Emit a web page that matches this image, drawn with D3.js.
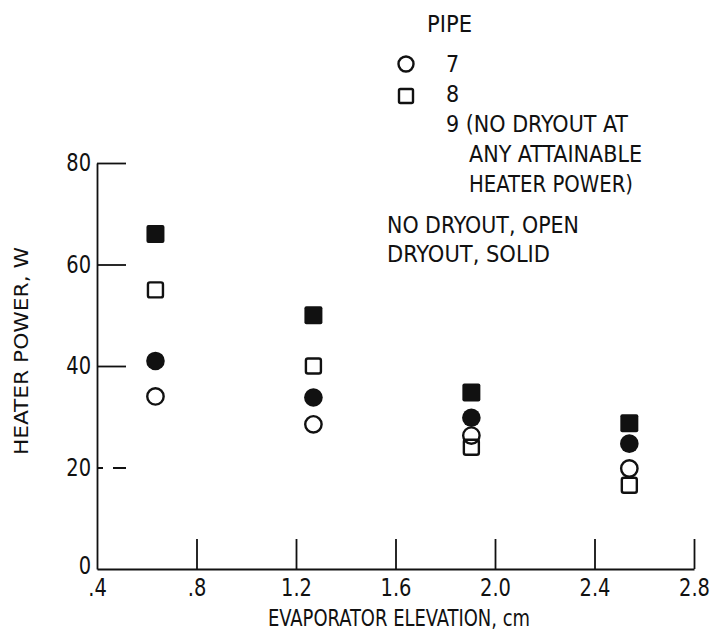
<!DOCTYPE html>
<html>
<head>
<meta charset="utf-8">
<script src="https://cdn.jsdelivr.net/npm/d3@7"></script>
<style>
  html, body { margin: 0; padding: 0; background: #fff; }
  svg text { font-family: "DejaVu Sans Condensed", "Liberation Sans Narrow", "Roboto", sans-serif; fill: #111; }
</style>
</head>
<body>
<svg id="chart" width="717" height="637"></svg>
<script>
// Evaporator elevation, cm
const elevation = [0.635, 1.27, 1.905, 2.54];
// Heater power, W — pipe 7 (circles) and pipe 8 (squares)
const pipe7NoDryout = [34, 28.5, 26.3, 19.8];
const pipe7Dryout   = [41, 33.8, 29.8, 24.7];
const pipe8NoDryout = [55, 40, 24, 16.5];
const pipe8Dryout   = [66, 50, 34.8, 28.7];

const xTickValues = [0.4, 0.8, 1.2, 1.6, 2.0, 2.4, 2.8];
const xTickLabels = [".4", ".8", "1.2", "1.6", "2.0", "2.4", "2.8"];
const yTickValues = [0, 20, 40, 60, 80];

const svg = d3.select("#chart");
const ink = "#111";

const x = d3.scaleLinear().domain([0.4, 2.8]).range([97, 694]);
const y = d3.scaleLinear().domain([0, 80]).range([569, 163]);

// x axis: ticks point up into the plot
const xAxis = svg.append("g")
  .attr("transform", `translate(0,${y(0)})`)
  .call(d3.axisBottom(x)
    .tickValues(xTickValues)
    .tickFormat((d, i) => xTickLabels[i])
    .tickSizeInner(-30)
    .tickSizeOuter(0)
    .tickPadding(10));
xAxis.selectAll(".tick").filter(d => d === 0.4).select("line").remove();

// y axis: ticks point right into the plot
const yAxis = svg.append("g")
  .attr("transform", `translate(${x(0.4)},0)`)
  .call(d3.axisLeft(y)
    .tickValues(yTickValues)
    .tickSizeInner(-29)
    .tickSizeOuter(0)
    .tickPadding(6));
yAxis.selectAll(".tick").filter(d => d === 0).select("line").remove();
yAxis.selectAll(".tick").filter(d => d === 0).select("text").attr("dy", "0.18em");
yAxis.selectAll(".tick").filter(d => d === 20).select("line")
  .attr("stroke-dasharray", "6,10,14");

[xAxis, yAxis].forEach(g => {
  g.selectAll("path, line").attr("stroke", ink).attr("stroke-width", 1.8);
  g.selectAll(".tick text").attr("font-size", 24).attr("fill", ink)
    .attr("textLength", function () { return this.getComputedTextLength() * 0.9; })
    .attr("lengthAdjust", "spacingAndGlyphs");
});

// axis titles
svg.append("text")
  .attr("x", 399).attr("y", 626)
  .attr("text-anchor", "middle")
  .attr("font-size", 23)
  .attr("textLength", 262).attr("lengthAdjust", "spacingAndGlyphs")
  .text("EVAPORATOR ELEVATION, cm");

svg.append("text")
  .attr("transform", `translate(28,351) rotate(-90)`)
  .attr("text-anchor", "middle")
  .attr("font-size", 19)
  .attr("textLength", 208).attr("lengthAdjust", "spacingAndGlyphs")
  .text("HEATER POWER, W");

// markers
const plot = svg.append("g");
function circles(values, filled) {
  plot.selectAll(null).data(values).join("circle")
    .attr("cx", (d, i) => x(elevation[i]))
    .attr("cy", d => y(d))
    .attr("r", filled ? 9.3 : 8.2)
    .attr("fill", filled ? ink : "#fff")
    .attr("stroke", ink)
    .attr("stroke-width", filled ? 0 : 2.4);
}
function squares(values, filled) {
  const s = filled ? 18 : 15;
  plot.selectAll(null).data(values).join("rect")
    .attr("x", (d, i) => x(elevation[i]) - s / 2)
    .attr("y", d => y(d) - s / 2)
    .attr("width", s).attr("height", s)
    .attr("rx", 2)
    .attr("fill", filled ? ink : "none")
    .attr("stroke", ink)
    .attr("stroke-width", filled ? 0 : 2.4);
}
circles(pipe7NoDryout, false);
squares(pipe8NoDryout, false);
circles(pipe7Dryout, true);
squares(pipe8Dryout, true);

// legend
const lg = svg.append("g");
const fs = 23;
function legendText(tx, ty, str, len) {
  const t = lg.append("text").attr("x", tx).attr("y", ty).attr("font-size", fs).text(str);
  if (len) t.attr("textLength", len).attr("lengthAdjust", "spacingAndGlyphs");
}
legendText(427, 32, "PIPE", 45);
lg.append("circle").attr("cx", 406).attr("cy", 64).attr("r", 7.5)
  .attr("fill", "none").attr("stroke", ink).attr("stroke-width", 2.4);
legendText(446, 72, "7");
lg.append("rect").attr("x", 399).attr("y", 89).attr("width", 14).attr("height", 14).attr("rx", 1.5)
  .attr("fill", "none").attr("stroke", ink).attr("stroke-width", 2.4);
legendText(446, 102, "8");
legendText(446, 132, "9 (NO DRYOUT AT", 182);
legendText(469, 162, "ANY ATTAINABLE", 173);
legendText(469, 192, "HEATER POWER)", 164);
legendText(387, 233, "NO DRYOUT, OPEN", 192);
legendText(387, 262, "DRYOUT, SOLID", 163);
</script>
</body>
</html>
